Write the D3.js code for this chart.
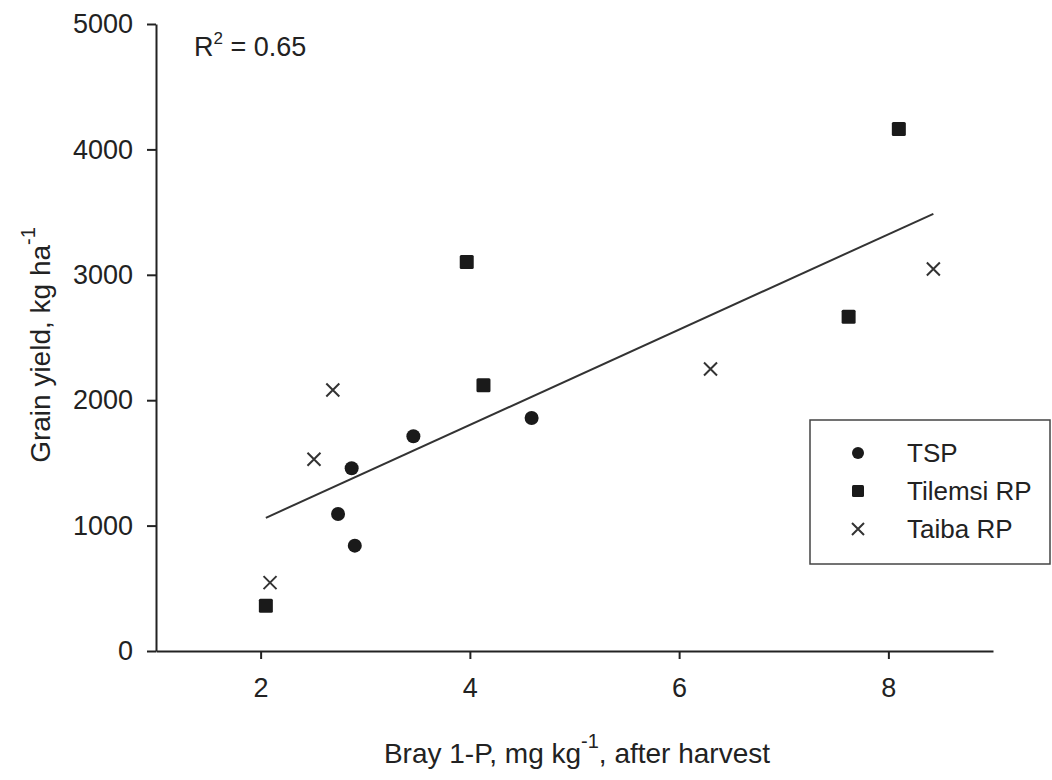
<!DOCTYPE html>
<html>
<head>
<meta charset="utf-8">
<script src="https://cdn.jsdelivr.net/npm/d3@7"></script>
<style>
  body { margin: 0; background: #fff; }
  svg { font-family: "Liberation Sans", Arial, sans-serif; }
  .axis path, .axis line { stroke: #222; stroke-width: 2; }
  .axis text { font-size: 27px; fill: #222; }
</style>
</head>
<body>
<script>
// values
var tspX = [2.74, 2.87, 2.90, 3.46, 4.59];
var tspY = [1092, 1457, 840, 1712, 1858];
var tilemsiX = [2.05, 3.97, 4.13, 7.62, 8.10];
var tilemsiY = [361, 3102, 2119, 2666, 4162];
var taibaX = [2.09, 2.51, 2.69, 6.30, 8.43];
var taibaY = [545, 1529, 2081, 2249, 3046];
var seriesNames = ["TSP", "Tilemsi RP", "Taiba RP"];
var xTicks = [2, 4, 6, 8];
var yTicks = [0, 1000, 2000, 3000, 4000, 5000];
// fitted line
var fitSlope = 380, fitIntercept = 283;
var r2 = "0.65";

var width = 1052, height = 780;

var svg = d3.select("body").append("svg")
    .attr("width", width)
    .attr("height", height);

var x = d3.scaleLinear().domain([1, 9]).range([156, 993]);
var y = d3.scaleLinear().domain([0, 5000]).range([651, 24]);

function zip(xs, ys) {
  return xs.map(function(v, i) { return {x: v, y: ys[i]}; });
}
var tsp = zip(tspX, tspY),
    tilemsi = zip(tilemsiX, tilemsiY),
    taiba = zip(taibaX, taibaY);

// axes
svg.append("g")
    .attr("class", "axis")
    .attr("transform", "translate(0," + y(0) + ")")
    .call(d3.axisBottom(x).tickValues(xTicks).tickSize(8).tickPadding(19).tickSizeOuter(0));

svg.append("g")
    .attr("class", "axis")
    .attr("transform", "translate(" + x(1) + ",0)")
    .call(d3.axisLeft(y).tickValues(yTicks).tickFormat(d3.format("d"))
      .tickSize(9).tickPadding(14).tickSizeOuter(0));

// regression line
var allX = tspX.concat(tilemsiX, taibaX);
var ext = d3.extent(allX);
svg.append("line")
    .attr("x1", x(ext[0])).attr("y1", y(fitIntercept + fitSlope * ext[0]))
    .attr("x2", x(ext[1])).attr("y2", y(fitIntercept + fitSlope * ext[1]))
    .attr("stroke", "#333")
    .attr("stroke-width", 2);

// symbols
function drawCircle(g, cx, cy, r) {
  g.append("circle").attr("cx", cx).attr("cy", cy).attr("r", r).attr("fill", "#1a1a1a");
}
function drawSquare(g, cx, cy, s) {
  g.append("rect").attr("x", cx - s / 2).attr("y", cy - s / 2)
    .attr("width", s).attr("height", s).attr("rx", 1.5).attr("fill", "#1a1a1a");
}
function drawCross(g, cx, cy, s) {
  var h = s / 2;
  g.append("path")
    .attr("d", "M" + (cx - h) + "," + (cy - h) + "L" + (cx + h) + "," + (cy + h) +
               "M" + (cx - h) + "," + (cy + h) + "L" + (cx + h) + "," + (cy - h))
    .attr("stroke", "#333").attr("stroke-width", 2).attr("fill", "none");
}

var marks = svg.append("g");
tsp.forEach(function(d) { drawCircle(marks, x(d.x), y(d.y), 7); });
tilemsi.forEach(function(d) { drawSquare(marks, x(d.x), y(d.y), 14); });
taiba.forEach(function(d) { drawCross(marks, x(d.x), y(d.y), 13); });

// R2 label
var r2t = svg.append("text")
    .attr("x", 194).attr("y", 56)
    .attr("font-size", 27).attr("fill", "#222");
r2t.append("tspan").text("R");
r2t.append("tspan").attr("font-size", 17).attr("dy", -12).text("2");
r2t.append("tspan").attr("dy", 12).text(" = " + r2);

// axis titles
var xt = svg.append("text")
    .attr("x", 577).attr("y", 763)
    .attr("text-anchor", "middle")
    .attr("font-size", 28).attr("fill", "#222");
xt.append("tspan").text("Bray 1-P, mg kg");
xt.append("tspan").attr("font-size", 20).attr("dy", -15).text("-1");
xt.append("tspan").attr("dy", 15).text(", after harvest");

var yt = svg.append("text")
    .attr("transform", "translate(50,345) rotate(-90)")
    .attr("text-anchor", "middle")
    .attr("font-size", 28).attr("fill", "#222");
yt.append("tspan").text("Grain yield, kg ha");
yt.append("tspan").attr("font-size", 20).attr("dy", -15).text("-1");

// legend
var legend = svg.append("g");
legend.append("rect")
    .attr("x", 810).attr("y", 420)
    .attr("width", 240).attr("height", 144)
    .attr("fill", "#fff")
    .attr("stroke", "#444").attr("stroke-width", 1.5);

var rowY = [453, 491, 529];
seriesNames.forEach(function(name, i) {
  var cy = rowY[i];
  if (i === 0) drawCircle(legend, 858, cy, 6);
  if (i === 1) drawSquare(legend, 858, cy, 12);
  if (i === 2) drawCross(legend, 858, cy, 12);
  legend.append("text")
      .attr("x", 907).attr("y", cy)
      .attr("dy", "0.36em")
      .attr("font-size", 26).attr("fill", "#222")
      .text(name);
});
</script>
</body>
</html>
